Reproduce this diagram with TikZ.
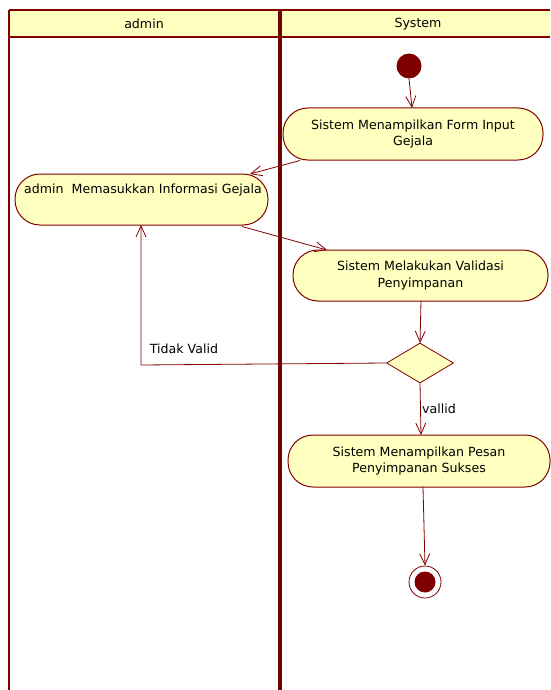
\documentclass[tikz,border=0pt]{standalone}
\usepackage{fontspec}
\setmainfont{DejaVu Sans}
\usetikzlibrary{arrows.meta,shapes.geometric}
\definecolor{umlred}{HTML}{800000}
\definecolor{umlfill}{HTML}{FFFFC0}
\tikzset{
  action/.style={draw=umlred, fill=umlfill, line width=1pt, rounded corners=25pt,
    inner sep=0pt, align=center, font=\fontsize{12.6}{16.5}\selectfont},
  flow/.style={draw=umlred, line width=0.8pt, -{Straight Barb[length=11pt,width=10pt,line width=0.8pt]}},
  lane/.style={draw=umlred, line width=2.4pt},
  lbl/.style={font=\fontsize{12.6}{14}\selectfont, inner sep=0pt},
  decision/.style={diamond, draw=umlred, fill=umlfill, line width=0.8pt, inner sep=0pt,
    minimum width=67pt, minimum height=40pt, aspect=1.675},
}
\begin{document}
\begin{tikzpicture}[x=1pt,y=-1pt]
\useasboundingbox (0,0) rectangle (550,690);
% swimlane headers
\fill[umlfill] (9,10) rectangle (550,37);
\node[lbl] (hadmin) at (144,24) {admin};
\node[lbl] (hsys) at (418,24) {System};
\draw[lane] (9,10) -- (550,10);
\draw[lane] (9,37) -- (550,37);
\draw[lane] (9,10) -- (9,690);
\draw[umlred, line width=4.5pt] (280,10) -- (280,690);
\draw[umlred!70!black, line width=1pt] (280,10) -- (280,690);

% nodes
\fill[umlred] (409,66) circle (12.5);
\node (startn) at (409,66) [circle, minimum size=25pt, inner sep=0pt] {};
\node[action, minimum width=260pt, minimum height=52pt] (form) at (413,134)
  {Sistem Menampilkan Form Input\\Gejala};
\node[action, minimum width=253pt, minimum height=51pt] (input) at (141.5,199.5) {};
\node[lbl] (inputtxt) at (143,190) {admin\ \ Memasukkan Informasi Gejala};
\node[action, minimum width=255pt, minimum height=51pt] (valid) at (420.5,275.5)
  {Sistem Melakukan Validasi\\Penyimpanan};
\node[decision] (dec) at (420,363) {};
\node[action, minimum width=262pt, minimum height=52pt] (pesan) at (419,461)
  {Sistem Menampilkan Pesan\\Penyimpanan Sukses};
\node[circle, draw=umlred, line width=0.8pt, fill=white, minimum size=32pt, inner sep=0pt] (end) at (425,582) {};
\fill[umlred] (end.center) circle (10.5);

% flows
\draw[flow] (409,78.5) -- (412,108);
\draw[flow] (300,160.5) -- (250,174);
\draw[flow] (242,226.5) -- (327,250);
\draw[flow] (421,301) -- (420,343);
\coordinate (bend) at (141,365);
\draw[flow] (dec.west) -- (bend) -- (141,225);
\node[lbl] (tv) at (184,349) {Tidak Valid};
\draw[flow] (dec.south) -- (421,435);
\node[lbl] (vl) at (439,409) {vallid};
\draw[flow] (423,487) -- (end.north);
\end{tikzpicture}
\end{document}
